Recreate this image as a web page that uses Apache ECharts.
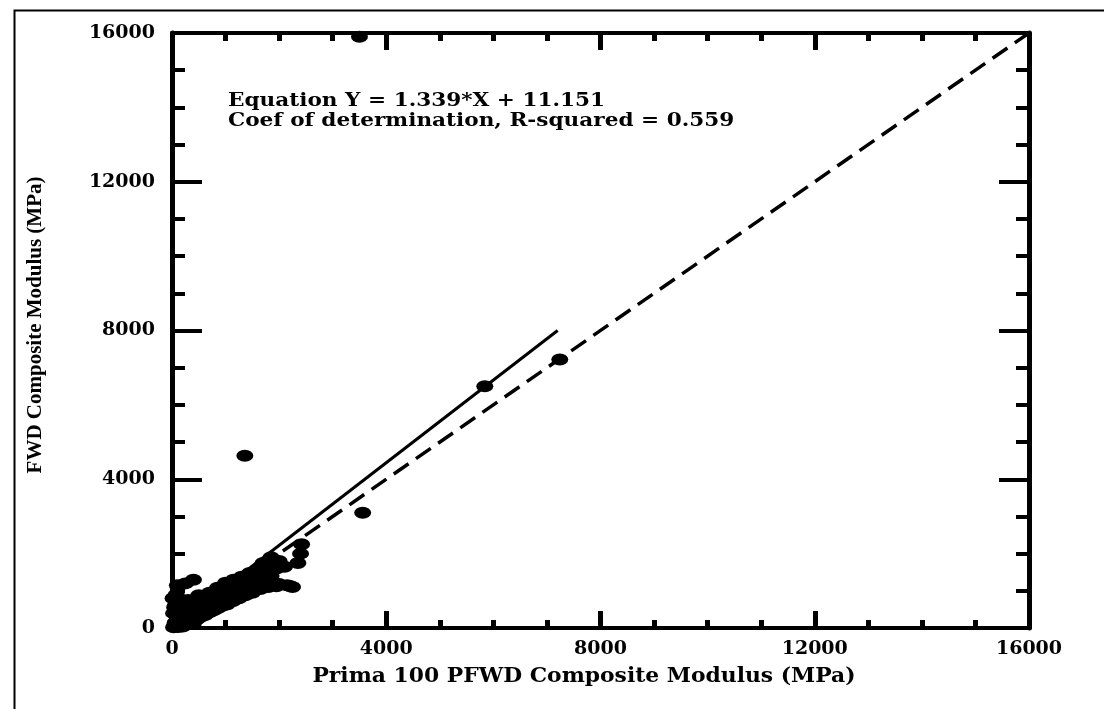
<!DOCTYPE html>
<html><head><meta charset="utf-8">
<script src="https://cdn.jsdelivr.net/npm/echarts@6/dist/echarts.min.js"></script>
<style>html,body{margin:0;padding:0;background:#fff}#c{width:1104px;height:709px}</style>
</head><body><div id="c"></div>
<script>
// Prima 100 PFWD (x) vs FWD (y) composite modulus, MPa
const pointsXY = [
 [30,20],[50,80],[60,150],[80,40],[100,200],[120,90],[140,300],[150,160],[170,60],[180,250],
 [200,380],[210,140],[230,220],[250,450],[260,310],[280,120],[300,200],[310,520],[330,380],[350,260],
 [370,600],[380,170],[400,440],[420,330],[440,650],[460,230],[480,520],[500,380],[520,700],[540,300],
 [560,590],[580,460],[600,760],[620,350],[640,640],[660,520],[680,820],[700,420],[720,690],[740,560],
 [760,880],[780,480],[800,740],[820,610],[840,930],[860,540],[880,790],[900,680],[920,980],[940,600],
 [960,850],[980,720],[1000,1050],[1020,660],[1050,900],[1080,780],[1100,1100],[1130,720],[1160,960],[1190,850],
 [1220,1150],[1250,800],[1280,1020],[1310,920],[1340,1200],[1370,880],[1400,1080],[1430,1000],[1460,1250],[1500,950],
 [1540,1150],[1580,1080],[1620,1300],[1660,1180],[1700,1380],[1750,1250],[1800,1500],[1850,1400],[1900,1700],[1950,1600],
 [2000,1800],[2100,1650],[2150,1150],[2250,1100],[1800,1100],[1950,1120],[2350,1750],[2400,2000],[2420,2250],
 [100,1150],[250,1200],[400,1300],[60,600],[80,900],[30,400],[20,800],
 [50,550],[300,750],[500,880],[700,950],[850,1080],[1000,1220],[1150,1300],[1300,1380],[1450,1480],[1600,1560],[1700,1680],[1850,1900],[1700,1750],
 [335,360],[600,450],[800,560],[1025,630],[1200,780],[1455,990],[1650,1050],
 [200,40],[300,100],[400,130],[120,30],[2000,1180],[2200,1130],
 [1360,4630],[3560,3100],[5840,6500],[7240,7220],[3500,15900]
];
const fitLine = [[0,0],[7200,8000]];
const equalityLine = [[0,0],[16000,16000]];
const axisMin = 0, axisMax = 16000, majorStep = 4000;
const xTitle = 'Prima 100 PFWD Composite Modulus (MPa)';
const yTitle = 'FWD Composite Modulus (MPa)';
const eqLines = ['Equation Y = 1.339*X + 11.151', 'Coef of determination, R-squared = 0.559'];

const serif = 'DejaVu Serif';
function mkAxis(pos, showLabel, horiz){
  return {
    type:'value', min:axisMin, max:axisMax, interval:majorStep, position:pos,
    axisLine:{show:true, onZero:false, lineStyle:{color:'#000', width:horiz?4:5}},
    axisTick:{show:true, inside:true, length:horiz?17:30, lineStyle:{color:'#000', width:horiz?5:4}},
    minorTick:{show:true, splitNumber:4, length:horiz?8:13, lineStyle:{color:'#000', width:horiz?5:4}},
    splitLine:{show:false},
    axisLabel:{show:showLabel, color:'#000', fontFamily:serif, fontWeight:'bold', fontSize:19,
      margin:horiz?12:17, formatter:function(v){return String(v);}}
  };
}
const chart = echarts.init(document.getElementById('c'), null, {renderer:'canvas'});
chart.setOption({
  backgroundColor:'#fff',
  animation:false,
  grid:{left:172, right:75, top:33, bottom:81},
  xAxis:[mkAxis('bottom', true, true), mkAxis('top', false, true)],
  yAxis:[mkAxis('left', true, false), mkAxis('right', false, false)],
  series:[
    {type:'line', data:equalityLine, symbol:'none', lineStyle:{color:'#000', width:3.5, type:[18,9]}, z:2},
    {type:'line', data:fitLine, symbol:'none', lineStyle:{color:'#000', width:3}, z:2},
    {type:'scatter', data:pointsXY, symbol:'circle', symbolSize:[17,12], itemStyle:{color:'#000', opacity:1}, z:3}
  ],
  graphic:[
    {type:'rect', left:12, top:8, shape:{width:1200, height:800}, style:{fill:null, stroke:'#000', lineWidth:2}, silent:true},
    {type:'text', x:228, y:101, scaleX:1.2, style:{text:eqLines[0], font:'bold 18px "DejaVu Serif"', fill:'#000', verticalAlign:'middle'}},
    {type:'text', x:228, y:121, scaleX:1.2, style:{text:eqLines[1], font:'bold 18px "DejaVu Serif"', fill:'#000', verticalAlign:'middle'}},
    {type:'text', x:584, y:677, scaleX:1.04, style:{text:xTitle, font:'bold 21px "DejaVu Serif"', fill:'#000', align:'center', verticalAlign:'middle'}},
    {type:'text', x:36, y:325, rotation:Math.PI/2, style:{text:yTitle, font:'bold 21px "Liberation Serif"', fill:'#000', align:'center', verticalAlign:'middle'}}
  ]
});
</script></body></html>
